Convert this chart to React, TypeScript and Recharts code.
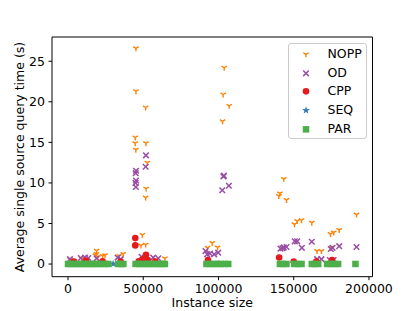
import React from "react";
import { ScatterChart, Scatter, XAxis, YAxis, ReferenceArea } from "recharts";

// instance size vs average single source query time (s)
const NOPP: [number, number][] = [
  [1500, 0.55], [9000, 0.7], [18200, 1.1], [19000, 1.65], [19000, 1.25], [19800, 0.85],
  [23000, 1.0], [24600, 1.1], [34000, 1.0], [36700, 1.25], [64400, 0.7],
  [45150, 26.6], [45150, 21.3], [51600, 19.3], [44700, 15.6], [44700, 14.9], [51800, 14.9],
  [45100, 14.1], [52700, 12.5], [51900, 9.3], [51600, 8.2], [49400, 3.6], [48500, 2.3], [51600, 2.4],
  [103800, 24.2], [103100, 20.9], [107100, 19.5], [102700, 17.6],
  [95800, 2.6], [92700, 2.0], [99400, 2.05],
  [143400, 10.5], [140800, 8.7], [140100, 8.4], [145200, 7.9],
  [150500, 4.9], [152300, 5.3], [155200, 5.4], [162000, 5.1],
  [174400, 3.7], [176600, 3.9], [180200, 4.2], [191700, 6.1],
  [165500, 1.6], [168400, 1.6], [175000, 2.0],
];

const OD: [number, number][] = [
  [1300, 0.6], [8500, 0.75], [11300, 0.8], [13500, 0.75], [19000, 0.7],
  [33000, 0.8], [35000, 0.6], [48900, 0.9], [52000, 0.8], [56600, 0.8], [60000, 0.7],
  [51800, 13.4], [51600, 12.0], [45200, 11.5], [45000, 11.2], [45200, 10.3], [44900, 10.0], [45100, 9.5],
  [103600, 10.9], [103300, 10.8], [102500, 9.1], [106900, 9.65],
  [91400, 1.6], [94300, 1.3], [97100, 1.2], [99800, 1.4], [92500, 1.2],
  [141200, 1.9], [142500, 1.95], [143400, 2.05], [145200, 2.1], [150700, 2.8], [152300, 2.8],
  [155400, 2.0], [162000, 2.75], [165500, 0.6], [168400, 0.6], [174600, 1.85], [175800, 2.0],
  [180200, 2.2], [191700, 2.1], [174000, 0.5], [176500, 0.5],
];

const CPP: [number, number][] = [
  [44700, 3.2], [44700, 2.3], [51800, 1.15], [140300, 0.8],
  [4000, 0.3], [12000, 0.4], [23000, 0.35], [35000, 0.3], [47000, 0.35], [49500, 0.6],
  [53000, 0.5], [58000, 0.3], [93000, 0.5], [150000, 0.3], [165000, 0.3], [175500, 0.5],
];

const SEQ: [number, number][] = [
  [5000, 0.02], [30000, 0.03], [47000, 0.05], [100000, 0.05], [150000, 0.03], [175000, 0.04],
];

const PAR: [number, number][] = [
  [0, 0.01], [2100, 0.01], [4300, 0.01], [6500, 0.01], [8800, 0.01], [11000, 0.01], [13300, 0.01],
  [15400, 0.01], [17600, 0.01], [19800, 0.01], [22100, 0.01], [24500, 0.01], [26800, 0.01],
  [33400, 0.01], [35100, 0.01], [36800, 0.01],
  [44900, 0.01], [47200, 0.01], [49500, 0.01], [51800, 0.01], [54000, 0.01], [56300, 0.01],
  [58600, 0.01], [60800, 0.01], [62700, 0.01], [64400, 0.01],
  [92000, 0.01], [94300, 0.01], [96700, 0.01], [99100, 0.01], [101500, 0.01], [103900, 0.01], [106500, 0.01],
  [140800, 0.01], [143000, 0.01], [145200, 0.01],
  [150300, 0.01], [152800, 0.01], [155200, 0.01],
  [162000, 0.01], [164200, 0.01], [166300, 0.01],
  [172200, 0.01], [174600, 0.01], [177000, 0.01], [179500, 0.01],
  [191000, 0.01],
];

const X_TICKS = [0, 50000, 100000, 150000, 200000];
const Y_TICKS = [0, 5, 10, 15, 20, 25];
const X_DOMAIN: [number, number] = [-10630, 202340];
const Y_DOMAIN: [number, number] = [-1.56, 27.99];

const FONT = "'DejaVu Sans', sans-serif";
const ORANGE = "#ff7f00";
const PURPLE = "#984ea3";
const RED = "#e41a1c";
const BLUE = "#377eb8";
const GREEN = "#4daf4a";

const pts = (a: [number, number][]) => a.map(([x, y]) => ({ x, y }));

function TriDown({ cx, cy }: { cx: number; cy: number }) {
  return (
    <g stroke={ORANGE} strokeWidth={1.4}>
      <line x1={cx} y1={cy} x2={cx} y2={cy + 3} />
      <line x1={cx} y1={cy} x2={cx - 2.7} y2={cy - 1.6} />
      <line x1={cx} y1={cy} x2={cx + 2.7} y2={cy - 1.6} />
    </g>
  );
}

function Cross({ cx, cy }: { cx: number; cy: number }) {
  const r = 2.8;
  return (
    <g stroke={PURPLE} strokeWidth={1.5}>
      <line x1={cx - r} y1={cy - r} x2={cx + r} y2={cy + r} />
      <line x1={cx - r} y1={cy + r} x2={cx + r} y2={cy - r} />
    </g>
  );
}

function Dot({ cx, cy }: { cx: number; cy: number }) {
  return <circle cx={cx} cy={cy} r={3.3} fill={RED} />;
}

function Star({ cx, cy }: { cx: number; cy: number }) {
  const p: string[] = [];
  for (let i = 0; i < 10; i++) {
    const r = i % 2 === 0 ? 4 : 1.7;
    const a = -Math.PI / 2 + (i * Math.PI) / 5;
    p.push(`${cx + r * Math.cos(a)},${cy + r * Math.sin(a)}`);
  }
  return <polygon points={p.join(" ")} fill={BLUE} />;
}

function Square({ cx, cy }: { cx: number; cy: number }) {
  return <rect x={cx - 3.25} y={cy - 3.25} width={6.5} height={6.5} fill={GREEN} />;
}

const LEGEND = [
  { name: "NOPP", M: TriDown },
  { name: "OD", M: Cross },
  { name: "CPP", M: Dot },
  { name: "SEQ", M: Star },
  { name: "PAR", M: Square },
];

export default function App() {
  const tick = { fill: "#000", fontSize: 12.5, fontFamily: FONT };
  return (
    <div style={{ position: "absolute", left: 0, top: 0, width: 415, height: 311, fontFamily: FONT }}>
      <ScatterChart width={415} height={311} margin={{ top: 37, right: 42.5, bottom: 0, left: 0 }}>
        <XAxis
          type="number"
          dataKey="x"
          domain={X_DOMAIN}
          allowDataOverflow
          ticks={X_TICKS}
          interval={0}
          height={34.3}
          axisLine={false}
          tickLine={{ stroke: "#000" }}
          tickSize={3.5}
          tickMargin={3.5}
          tick={tick}
          label={{ value: "Instance size", position: "insideBottom", offset: 4, fill: "#000", fontSize: 12.5, fontFamily: FONT }}
        />
        <YAxis
          type="number"
          dataKey="y"
          domain={Y_DOMAIN}
          allowDataOverflow
          ticks={Y_TICKS}
          interval={0}
          width={52}
          axisLine={false}
          tickLine={{ stroke: "#000" }}
          tickSize={3.5}
          tickMargin={3.5}
          tick={tick}
        />
        <ReferenceArea x1={X_DOMAIN[0]} x2={X_DOMAIN[1]} y1={Y_DOMAIN[0]} y2={Y_DOMAIN[1]} fill="none" stroke="#000" strokeWidth={1} />
        <Scatter name="NOPP" data={pts(NOPP)} isAnimationActive={false} shape={(p: any) => <TriDown cx={p.cx} cy={p.cy} />} />
        <Scatter name="OD" data={pts(OD)} isAnimationActive={false} shape={(p: any) => <Cross cx={p.cx} cy={p.cy} />} />
        <Scatter name="CPP" data={pts(CPP)} isAnimationActive={false} shape={(p: any) => <Dot cx={p.cx} cy={p.cy} />} />
        <Scatter name="SEQ" data={pts(SEQ)} isAnimationActive={false} shape={(p: any) => <Star cx={p.cx} cy={p.cy} />} />
        <Scatter name="PAR" data={pts(PAR)} isAnimationActive={false} shape={(p: any) => <Square cx={p.cx} cy={p.cy} />} />
      </ScatterChart>

      <svg width={40} height={311} style={{ position: "absolute", left: 0, top: 0 }}>
        <text x={24} y={157} transform="rotate(-90 24 157)" textAnchor="middle" fontSize={12.5} fontFamily={FONT} fill="#000">
          Average single source query time (s)
        </text>
      </svg>

      <div
        style={{
          position: "absolute",
          left: 288,
          top: 43,
          width: 79,
          height: 96,
          boxSizing: "border-box",
          border: "1px solid #cccccc",
          borderRadius: 3,
          background: "rgba(255,255,255,0.8)",
        }}
      >
        {LEGEND.map(({ name, M }, i) => (
          <div key={name} style={{ position: "absolute", left: 0, top: 1 + i * 18.7, height: 18.7, display: "flex", alignItems: "center" }}>
            <svg width={34} height={18.7} style={{ display: "block" }}>
              <M cx={17} cy={9.35} />
            </svg>
            <span style={{ fontSize: 12.5, color: "#000", marginLeft: 4.5, lineHeight: "18.7px" }}>{name}</span>
          </div>
        ))}
      </div>
    </div>
  );
}
